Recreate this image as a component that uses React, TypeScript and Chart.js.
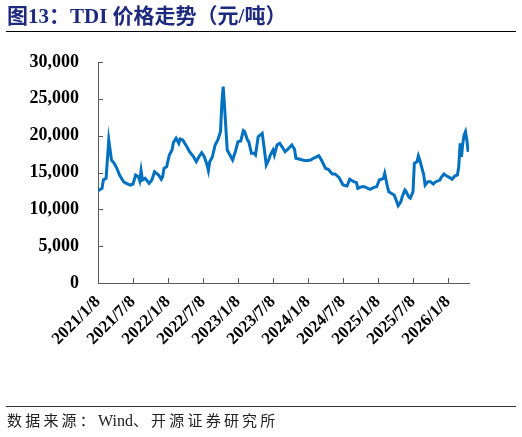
import React, { useEffect, useRef } from "react";
import { Chart, registerables } from "chart.js";

Chart.register(...registerables);

// Weeks elapsed since 2021/1/8 for each reading
const weekOffsets = [0,3,4,6,8,9,10,12,14,16,19,21,24,26,28,30,31,32,33,35,38,40,42,45,47,48,49,51,53,55,56,58,60,61,63,66,68,71,73,75,77,79,81,82,83,85,87,89,91,92,93,94,96,98,100,102,104,106,108,109,111,112,114,116,117,119,122,123,125,127,128,130,131,133,135,137,139,141,144,146,147,150,154,158,160,164,166,169,171,174,176,179,182,185,187,190,192,193,196,198,202,205,207,209,212,213,215,216,220,221,223,225,226,228,229,231,232,234,235,237,238,239,241,242,243,245,247,249,251,254,255,257,259,261,263,265,267,268,269,270,271,272,273,274,275];

// TDI price (元/吨)
const prices = [12530,12850,13980,14200,19410,18050,16700,16250,15570,14660,13750,13530,13300,13440,14660,14430,13890,15250,13980,14210,13530,13980,15110,14660,14080,14430,15570,15790,17380,18050,19050,19640,18960,19550,19410,18500,17820,17140,16470,17140,17690,17140,16020,15250,16470,17140,18730,19410,20540,24390,26650,23930,18050,17380,16700,17820,19180,19280,20680,20540,19410,19180,17600,17600,17380,19860,20320,18960,16020,16790,17380,18050,17380,18730,18960,18420,17820,18150,18730,18150,16930,16790,16600,16700,16930,17280,16700,15570,15430,14800,14800,14340,13300,13170,14080,13750,13620,12850,13070,13070,12720,12990,13070,13980,14210,14890,13070,12390,11950,11500,10490,11040,11720,12620,12390,11630,11500,12390,16250,16470,17240,16700,15340,14660,13300,13750,13750,13440,13750,13980,14340,14800,14530,14340,14080,14530,14660,15790,18960,17140,18960,20090,20540,19410,17820];

const tickLabels = ["2021/1/8","2021/7/8","2022/1/8","2022/7/8","2023/1/8","2023/7/8","2024/1/8","2024/7/8","2025/1/8","2025/7/8","2026/1/8"];
const tickWeeks = [0,26,52,78,104,130,156,182,208,234,260];
const yTicks = [0,5000,10000,15000,20000,25000,30000];

const AXIS_COLOR = "#595959";

const inwardTicks = {
  id: "inwardTicks",
  afterDraw(chart: any) {
    const ctx = chart.ctx;
    const xs = chart.scales.x;
    const ys = chart.scales.y;
    const { left, bottom } = chart.chartArea;
    ctx.save();
    ctx.strokeStyle = AXIS_COLOR;
    ctx.lineWidth = 1;
    ctx.beginPath();
    tickWeeks.forEach((w) => {
      const px = Math.round(xs.getPixelForValue(w)) + 0.5;
      ctx.moveTo(px, bottom);
      ctx.lineTo(px, bottom - 5);
    });
    yTicks.forEach((v) => {
      const py = Math.round(ys.getPixelForValue(v)) + 0.5;
      ctx.moveTo(left, py);
      ctx.lineTo(left + 5, py);
    });
    ctx.stroke();
    ctx.restore();
  },
};

export default function App() {
  const ref = useRef<HTMLCanvasElement | null>(null);

  useEffect(() => {
    if (!ref.current) return;
    const chart = new Chart(ref.current, {
      type: "line",
      data: {
        datasets: [
          {
            data: weekOffsets.map((w, i) => ({ x: w, y: prices[i] })),
            borderColor: "#0070C0",
            borderWidth: 3,
            pointRadius: 0,
            tension: 0,
            fill: false,
          },
        ],
      },
      options: {
        animation: false,
        responsive: false,
        devicePixelRatio: 1,
        layout: { padding: { top: 62, left: 0, right: 53, bottom: 0 } },
        plugins: { legend: { display: false }, tooltip: { enabled: false } },
        scales: {
          x: {
            type: "linear",
            min: 0,
            max: 275.6,
            afterBuildTicks: (scale: any) => {
              scale.ticks = tickWeeks.map((v) => ({ value: v }));
            },
            afterFit: (scale: any) => {
              scale.height = 154;
            },
            grid: { display: false, drawTicks: false },
            border: { display: true, color: AXIS_COLOR, width: 1 },
            ticks: {
              autoSkip: false,
              minRotation: 45,
              maxRotation: 45,
              padding: 9,
              color: "#000",
              font: { family: "'Liberation Serif', 'Times New Roman', serif", size: 17, weight: "bold" },
              callback: (_v: any, i: number) => tickLabels[i],
            },
          },
          y: {
            min: 0,
            max: 30000,
            afterBuildTicks: (scale: any) => {
              scale.ticks = yTicks.map((v) => ({ value: v }));
            },
            afterFit: (scale: any) => {
              scale.width = 98;
            },
            grid: { display: false, drawTicks: false },
            border: { display: true, color: AXIS_COLOR, width: 1 },
            ticks: {
              padding: 19,
              color: "#000",
              font: { family: "'Liberation Serif', 'Times New Roman', serif", size: 18, weight: "bold" },
              callback: (v: any) => Number(v).toLocaleString("en-US"),
            },
          },
        },
      },
      plugins: [inwardTicks],
    });
    return () => chart.destroy();
  }, []);

  const cjkSpaced = { letterSpacing: 3.2 };

  return (
    <div style={{ position: "absolute", left: 0, top: 0, width: 522, height: 437, background: "#fff", overflow: "hidden" }}>
      <canvas ref={ref} width={522} height={437} style={{ position: "absolute", left: 0, top: 0, width: 522, height: 437 }} />
      <div
        style={{
          position: "absolute",
          left: 7,
          top: 3,
          fontFamily: "'Liberation Serif', 'Noto Sans CJK SC', serif",
          fontWeight: "bold",
          fontSize: 21,
          lineHeight: "26px",
          color: "#1E2A7E",
          whiteSpace: "nowrap",
        }}
      >
        图13：TDI 价格走势（元/吨）
      </div>
      <div style={{ position: "absolute", left: 6, top: 31, width: 510, height: 0, borderTop: "1.5px solid #000" }} />
      <div style={{ position: "absolute", left: 6, top: 406, width: 510, height: 0, borderTop: "1.5px solid #333" }} />
      <div
        style={{
          position: "absolute",
          left: 7,
          top: 411,
          fontFamily: "'Liberation Serif', 'Noto Sans CJK SC', serif",
          fontSize: 15,
          lineHeight: "20px",
          color: "#222",
          whiteSpace: "nowrap",
        }}
      >
        <span style={cjkSpaced}>数据来源：</span>
        <span style={{ fontSize: 16 }}>Wind</span>
        <span style={cjkSpaced}>、开源证券研究所</span>
      </div>
    </div>
  );
}
